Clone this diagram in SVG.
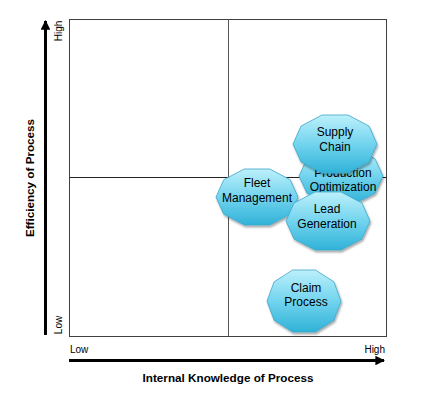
<svg xmlns="http://www.w3.org/2000/svg" width="432" height="394" viewBox="0 0 432 394">
<defs>
<linearGradient id="g" x1="0" y1="0" x2="0" y2="1">
<stop offset="0" stop-color="#bdf0fb"/>
<stop offset="0.5" stop-color="#72d4ee"/>
<stop offset="1" stop-color="#30b2d8"/>
</linearGradient>
<marker id="ah" viewBox="0 0 10 10" refX="9" refY="5" markerWidth="3.2" markerHeight="3.2" orient="auto" markerUnits="strokeWidth">
<path d="M0,0 L10,5 L0,10 z" fill="#000"/>
</marker>
<filter id="sh" x="-10%" y="-10%" width="125%" height="130%">
<feGaussianBlur in="SourceAlpha" stdDeviation="1.2"/>
<feOffset dx="1" dy="2" result="b"/>
<feComponentTransfer><feFuncA type="linear" slope="0.35"/></feComponentTransfer>
<feMerge><feMergeNode/><feMergeNode in="SourceGraphic"/></feMerge>
</filter>
</defs>
<style>
.node{fill:url(#g);stroke:#3ea6ca;stroke-width:0.8;filter:url(#sh)}
.lbl{font-family:"Liberation Sans",Arial,sans-serif;font-size:12px;fill:#000;text-anchor:middle}
.ax{font-family:"Liberation Sans",Arial,sans-serif;font-size:10px;fill:#000}
.title{font-family:"Liberation Sans",Arial,sans-serif;font-size:11.7px;font-weight:bold;fill:#000;text-anchor:middle}
</style>
<rect width="432" height="394" fill="#fff"/>
<g id="plot">
<rect x="69.5" y="19.5" width="317" height="317" fill="none" stroke="#404040" stroke-width="1"/>
<line x1="228.5" y1="19.5" x2="228.5" y2="336.5" stroke="#555" stroke-width="1"/>
<line x1="69.5" y1="177.5" x2="386.5" y2="177.5" stroke="#222" stroke-width="1"/>
</g>
<g id="connectors">
<line x1="45.5" y1="335" x2="45.5" y2="21" stroke="#000" stroke-width="3" marker-end="url(#ah)"/>
<line x1="69" y1="360.5" x2="384" y2="360.5" stroke="#000" stroke-width="3" marker-end="url(#ah)"/>
</g>
<g id="axis-labels">
<text class="ax" transform="translate(61.5,31) rotate(-90)" text-anchor="middle">High</text>
<text class="ax" transform="translate(61.5,325) rotate(-90)" text-anchor="middle">Low</text>
<text class="ax" x="70" y="353">Low</text>
<text class="ax" x="385" y="353" text-anchor="end">High</text>
<text class="title" x="228" y="382">Internal Knowledge of Process</text>
<text class="title" transform="translate(34,178) rotate(-90)">Efficiency of Process</text>
</g>
<g id="production-optimization">
<polygon class="node" points="383,176 375,193.3 354,204 328,204 307,193.3 299,176 307,158.7 328,148 354,148 375,158.7"/>
<text class="lbl" x="343" y="177">Production</text>
<text class="lbl" x="343" y="191">Optimization</text>
</g>
<g id="supply-chain">
<polygon class="node" points="377,144 369,161.9 348,173 322,173 301,161.9 293,144 301,126.1 322,115 348,115 369,126.1"/>
<text class="lbl" x="335" y="136">Supply</text>
<text class="lbl" x="335" y="151">Chain</text>
</g>
<g id="fleet-management">
<polygon class="node" points="298,197 290.2,214.3 269.7,225 244.3,225 223.8,214.3 216,197 223.8,179.7 244.3,169 269.7,169 290.2,179.7"/>
<text class="lbl" x="257" y="187">Fleet</text>
<text class="lbl" x="257" y="202">Management</text>
</g>
<g id="lead-generation">
<polygon class="node" points="370,221 362,238.9 341,250 315,250 294,238.9 286,221 294,203.1 315,192 341,192 362,203.1"/>
<text class="lbl" x="327" y="213">Lead</text>
<text class="lbl" x="327" y="228">Generation</text>
</g>
<g id="claim-process">
<polygon class="node" points="341,301 333.9,320.2 315.4,332 292.6,332 274.1,320.2 267,301 274.1,281.8 292.6,270 315.4,270 333.9,281.8"/>
<text class="lbl" x="306" y="292">Claim</text>
<text class="lbl" x="306" y="306">Process</text>
</g>
</svg>
